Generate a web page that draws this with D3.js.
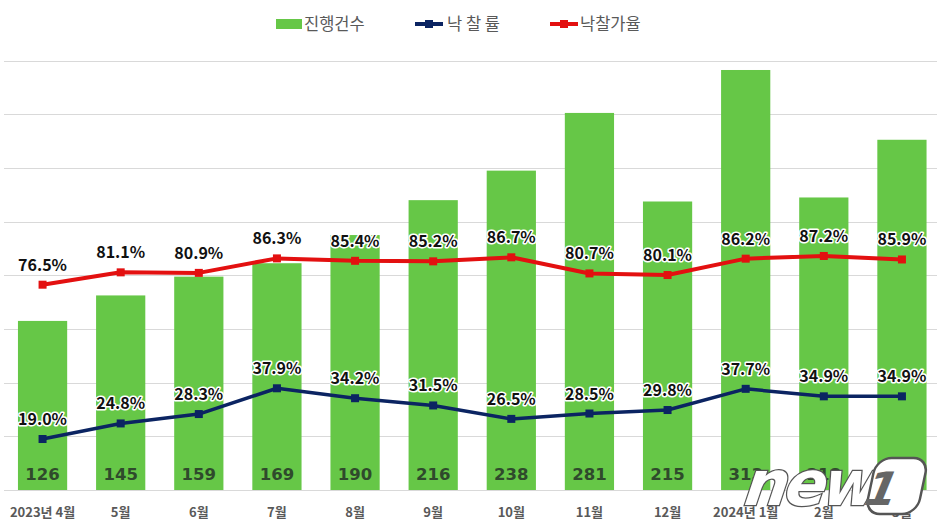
<!DOCTYPE html>
<html><head><meta charset="utf-8">
<script src="https://cdn.jsdelivr.net/npm/d3@7"></script>
<style>
html,body{margin:0;padding:0;background:#fff;}
svg{display:block;font-family:"Noto Sans CJK KR","Noto Sans",sans-serif;}
</style></head>
<body>
<svg id="c" width="937" height="525"></svg>
<script>
const categories = ["2023년 4월","5월","6월","7월","8월","9월","10월","11월","12월","2024년 1월","2월","3월"];
const cases = [126,145,159,169,190,216,238,281,215,313,218,261];
const bidRate = [19.0,24.8,28.3,37.9,34.2,31.5,26.5,28.5,29.8,37.7,34.9,34.9];
const priceRate = [76.5,81.1,80.9,86.3,85.4,85.2,86.7,80.7,80.1,86.2,87.2,85.9];
const yTicks = [0,40,80,120,160,200,240,280,320];
const legendLabels = ["진행건수","낙 찰 률","낙찰가율"];

(function(){
const svg = d3.select("#c");
const plotTop = 60.6, plotBottom = 490;
const x = d3.scaleBand().domain(categories).range([3.5, 941]).paddingInner(0.37).paddingOuter(0.185);
const y = d3.scaleLinear().domain([0,320]).range([plotBottom, plotTop]);
const y2 = d3.scaleLinear().domain([0,160]).range([plotBottom, plotTop]);
const cx = d => x(d) + x.bandwidth()/2;

const green = "#66c747", navy = "#0b2462", red = "#e31010";

// gridlines
svg.append("g").selectAll("line").data(yTicks).join("line")
  .attr("x1",4).attr("x2",937)
  .attr("y1",d=>Math.round(y(d))+0.5).attr("y2",d=>Math.round(y(d))+0.5)
  .attr("stroke","#d9d9d9").attr("stroke-width",1);

// bars
svg.append("g").selectAll("rect").data(cases).join("rect")
  .attr("x",(d,i)=>x(categories[i])).attr("width",x.bandwidth())
  .attr("y",d=>y(d)).attr("height",d=>plotBottom-y(d))
  .attr("fill",green);

// x axis labels
svg.append("g").selectAll("text").data(categories).join("text")
  .attr("x",d=>cx(d)).attr("y",517)
  .attr("text-anchor","middle").attr("font-size",13).attr("font-weight","bold")
  .attr("fill","#595959").text(d=>d);

// bar value labels
svg.append("g").selectAll("text").data(cases).join("text")
  .attr("x",(d,i)=>cx(categories[i])).attr("y",480)
  .attr("text-anchor","middle").attr("font-size",16.5).attr("font-weight","bold")
  .attr("font-family","DejaVu Sans")
  .attr("fill","#2f4a2c").text(d=>d);

function drawLine(vals, color, w){
  const pts = vals.map((v,i)=>[cx(categories[i]), y2(v)]);
  svg.append("path").attr("d", d3.line()(pts)).attr("fill","none")
    .attr("stroke",color).attr("stroke-width",w).attr("stroke-linejoin","round");
  svg.append("g").selectAll("rect").data(pts).join("rect")
    .attr("x",p=>p[0]-4).attr("y",p=>p[1]-4).attr("width",8).attr("height",8)
    .attr("fill",color);
  svg.append("g").selectAll("text").data(vals).join("text")
    .attr("x",(v,i)=>cx(categories[i])).attr("y",v=>y2(v)-14)
    .attr("text-anchor","middle").attr("font-size",16).attr("font-weight","bold")
    .attr("fill","#111").attr("stroke","#fff").attr("stroke-width",3)
    .attr("paint-order","stroke").attr("stroke-linejoin","round")
    .text(v=>v.toFixed(1)+"%");
}
drawLine(priceRate, red, 4);
drawLine(bidRate, navy, 3.5);

// legend
const lg = svg.append("g");
lg.append("rect").attr("x",276).attr("y",19).attr("width",26).attr("height",10).attr("fill",green);
lg.append("text").attr("x",304).attr("y",30).attr("font-size",16.5).attr("fill","#595959").text(legendLabels[0]);
[[415,navy,legendLabels[1],447],[550,red,legendLabels[2],580]].forEach(([lx,c,t,tx])=>{
  lg.append("line").attr("x1",lx).attr("x2",lx+28).attr("y1",24).attr("y2",24).attr("stroke",c).attr("stroke-width",4);
  lg.append("rect").attr("x",lx+10).attr("y",20).attr("width",8).attr("height",8).attr("fill",c);
  lg.append("text").attr("x",tx).attr("y",30).attr("font-size",16.5).attr("fill","#595959").text(t);
});

// watermark
const wm = svg.append("g");
wm.append("text").attr("x",752).attr("y",505).attr("font-size",62).attr("font-weight","bold")
  .attr("font-style","italic").attr("font-family","DejaVu Sans").attr("letter-spacing",-4)
  .attr("fill","#fff").attr("stroke","#555").attr("stroke-width",2.5).attr("paint-order","stroke")
  .attr("transform","skewX(-8) translate(62,0)").text("news");
wm.append("rect").attr("x",874).attr("y",458).attr("width",52).attr("height",56).attr("rx",15)
  .attr("fill","#fff").attr("stroke","#555").attr("stroke-width",2.5).attr("transform","skewX(-12) translate(100,0)");
wm.append("text").attr("x",986).attr("y",505).attr("font-size",46).attr("font-weight","bold")
  .attr("font-style","italic").attr("font-family","DejaVu Sans").attr("text-anchor","middle")
  .attr("fill","#666").attr("transform","skewX(-12)").text("1");
})();
</script>
</body></html>
